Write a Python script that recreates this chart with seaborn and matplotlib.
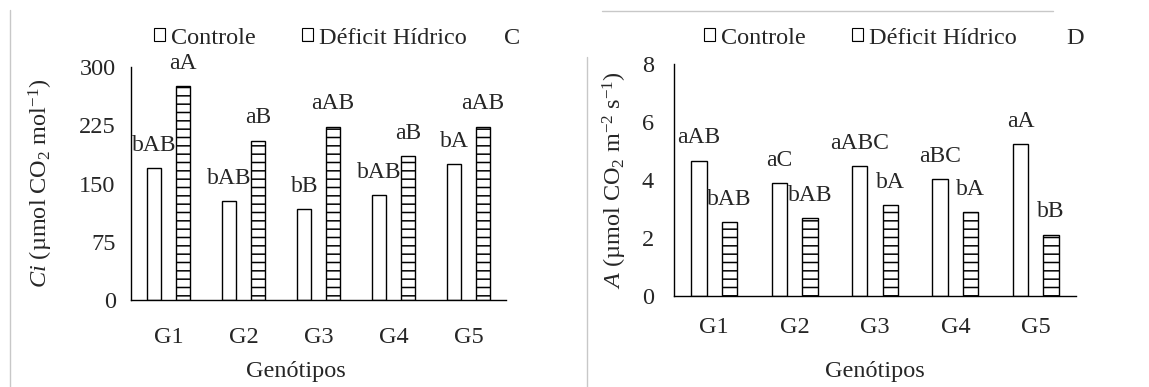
import matplotlib
matplotlib.use("Agg")
import matplotlib.pyplot as plt
import seaborn as sns
import pandas as pd
from matplotlib.patches import Patch
from matplotlib.lines import Line2D

genotypes = ["G1", "G2", "G3", "G4", "G5"]
treatments = ["Controle", "Déficit Hídrico"]

ci_controle = [170, 127, 117, 135, 175]
ci_deficit = [275, 205, 223, 185, 223]
ci_letters_controle = ["bAB", "bAB", "bB", "bAB", "bA"]
ci_letters_deficit = ["aA", "aB", "aAB", "aB", "aAB"]

a_controle = [4.66, 3.88, 4.48, 4.03, 5.23]
a_deficit = [2.55, 2.69, 3.13, 2.90, 2.12]
a_letters_controle = ["aAB", "aC", "aABC", "aBC", "aA"]
a_letters_deficit = ["bAB", "bAB", "bA", "bA", "bB"]

ci_ticks = [0, 75, 150, 225, 300]
a_ticks = [0, 2, 4, 6, 8]

sns.set_theme(style="white")
FONT = "Liberation Serif"
plt.rcParams["font.family"] = [FONT, "DejaVu Serif"]
plt.rcParams["mathtext.fontset"] = "custom"
plt.rcParams["mathtext.rm"] = FONT
plt.rcParams["mathtext.it"] = FONT + ":italic"
plt.rcParams["hatch.linewidth"] = 1.1
plt.rcParams["hatch.color"] = "black"

FS = 17.5
FS_LAB = 17
W, H = 1149, 387
fig = plt.figure(figsize=(W / 100, H / 100), dpi=100)


def px_axes(x0, x1, ytop, ybot):
    return fig.add_axes([x0 / W, 1 - ybot / H, (x1 - x0) / W, (ybot - ytop) / H])


def make_df(c, d):
    return pd.DataFrame({
        "Genótipo": genotypes * 2,
        "Tratamento": [treatments[0]] * 5 + [treatments[1]] * 5,
        "Valor": list(c) + list(d),
    })


def panel(ax, c, d, lc, ld, ticks, ymax, ylabel, tlen_x, pad_x, tlen_y, pad_y):
    df = make_df(c, d)
    sns.barplot(data=df, x="Genótipo", y="Valor", hue="Tratamento",
                hue_order=treatments, order=genotypes,
                palette=["white", "white"], edgecolor="black", linewidth=1.0,
                width=0.76, gap=0.5, errorbar=None, legend=False, ax=ax,
                saturation=1)
    for p in ax.containers[1].patches:
        p.set_hatch("--")
    for cont, labels in zip(ax.containers, [lc, ld]):
        for p, lab in zip(cont.patches, labels):
            ax.annotate(lab, (p.get_x() + p.get_width() / 2, p.get_height()),
                        xytext=(0, 12.5), textcoords="offset points",
                        ha="center", va="baseline", fontsize=FS_LAB)
    ax.set_xlim(-0.5, 4.5)
    ax.set_ylim(0, ymax)
    ax.set_yticks(ticks)
    ax.set_yticklabels([str(t) for t in ticks])
    ax.set_xticks(list(range(5)) + [4.5])
    ax.set_xticklabels(genotypes + [""])
    for s in ["top", "right"]:
        ax.spines[s].set_visible(False)
    for s in ["left", "bottom"]:
        ax.spines[s].set_color("black")
        ax.spines[s].set_linewidth(1.0)
    ax.tick_params(axis="x", direction="out", length=tlen_x, width=1,
                   color="black", pad=pad_x, labelsize=FS)
    ax.tick_params(axis="y", direction="out", length=tlen_y, width=1,
                   color="black", pad=pad_y, labelsize=FS)
    ax.set_xlabel("Genótipos", fontsize=FS)
    ax.set_ylabel(ylabel, fontsize=FS)
    ax.yaxis.label.set_va("center")
    ax.grid(False)
    ax.set_facecolor("none")


# Left panel (Ci)
axL = px_axes(131, 506, 67, 300)
panel(axL, ci_controle, ci_deficit, ci_letters_controle, ci_letters_deficit,
      ci_ticks, 300, r"$\it{Ci}$ (µmol CO$_2$ mol$^{-1}$)", 5, 14.5, 6, 5.0)
axL.xaxis.set_label_coords(0.44, (300 - 361) / 233)
axL.yaxis.set_label_coords((41 - 131) / 375, 0.5)

# Right panel (A)
axR = px_axes(674, 1076, 64, 296)
panel(axR, a_controle, a_deficit, a_letters_controle, a_letters_deficit,
      a_ticks, 8, r"$\it{A}$ (µmol CO$_2$ m$^{-2}$ s$^{-1}$)", 7, 8, 4.5, 10)
axR.xaxis.set_label_coords(0.5, (296 - 361) / 232)
axR.yaxis.set_label_coords((615 - 674) / 402, 0.5)

handles = [Patch(facecolor="white", edgecolor="black", linewidth=0.8, label=treatments[0]),
           Patch(facecolor="white", edgecolor="black", linewidth=0.8, hatch="-", label=treatments[1])]

for x0, letter, xl in [(154, "C", 512), (704, "D", 1075)]:
    fig.legend(handles=handles, loc="center left",
               bbox_to_anchor=(x0 / W, 1 - 38 / H), bbox_transform=fig.transFigure,
               ncol=2, frameon=False, fontsize=FS, handlelength=0.45, handleheight=0.45,
               handletextpad=0.25, columnspacing=1.9, borderpad=0, borderaxespad=0)
    fig.text(xl / W, 1 - 38 / H, letter, ha="center", va="center", fontsize=FS)

gray = "#c8c8c8"
fig.add_artist(Line2D([10 / W, 10 / W], [1 - 10 / H, 0], color=gray, lw=1))
fig.add_artist(Line2D([587 / W, 587 / W], [1 - 57 / H, 0], color=gray, lw=1))
fig.add_artist(Line2D([602 / W, 1053 / W], [1 - 11 / H, 1 - 11 / H], color=gray, lw=1))

fig.savefig("out.png", dpi=100, facecolor="white")
